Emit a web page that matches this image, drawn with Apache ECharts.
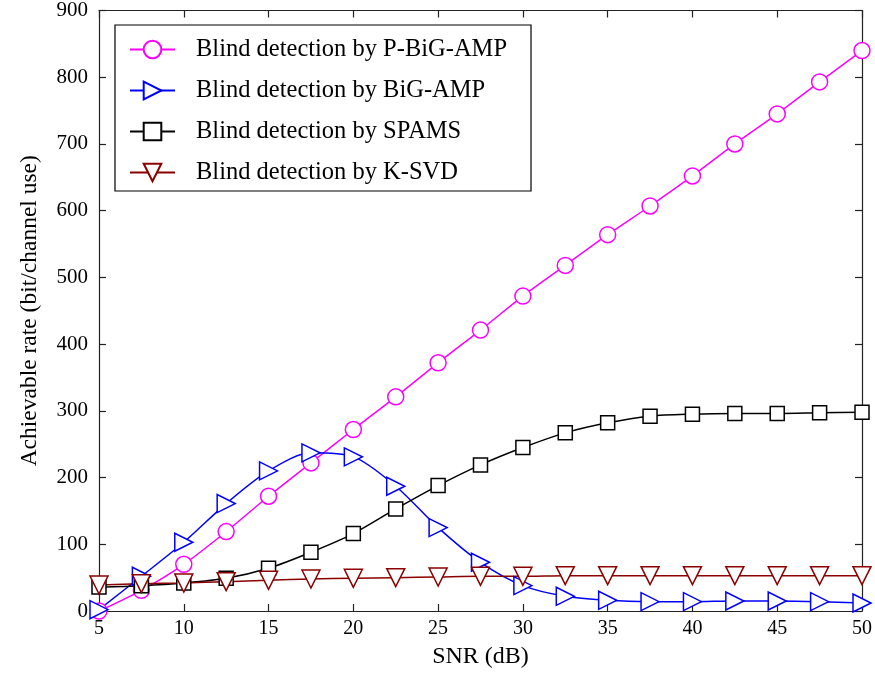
<!DOCTYPE html>
<html>
<head>
<meta charset="utf-8">
<script src="https://cdn.jsdelivr.net/npm/echarts@6/dist/echarts.min.js"></script>
<style>html,body{margin:0;padding:0;background:#fff}#c{width:875px;height:674px}</style>
</head>
<body>
<div id="c"></div>
<script>
var snr = [5, 7.5, 10, 12.5, 15, 17.5, 20, 22.5, 25, 27.5, 30, 32.5, 35, 37.5, 40, 42.5, 45, 47.5, 50];
var pBigAmp = [0, 31, 70, 119, 172, 222, 272, 321, 372, 421, 472, 518, 564, 607, 652, 700, 745, 793, 840];
var bigAmp = [2, 52, 103, 161, 210, 237, 231, 187, 125, 73, 38, 22, 16, 14, 14, 15, 15, 14, 12];
var spams = [36, 38, 42, 49, 64, 88, 116, 153, 188, 219, 245, 267, 282, 292, 295, 296, 296, 297, 298];
var ksvd = [39, 41, 42, 44, 46, 48, 49, 50, 51, 52, 52, 53, 53, 53, 53, 53, 53, 53, 53];
var seriesNames = ['Blind detection by P-BiG-AMP', 'Blind detection by BiG-AMP', 'Blind detection by SPAMS', 'Blind detection by K-SVD'];
var xTicks = [5, 10, 15, 20, 25, 30, 35, 40, 45, 50];

var font = 'Liberation Serif';
function pairs(v){ return snr.map(function(x,i){ return [x, v[i]]; }); }
function mk(name, data, color, symbol, size, rot){
  return {
    name: name, type: 'line', data: pairs(data), smooth: 0.3,
    symbol: symbol, symbolSize: size, symbolRotate: rot,
    showAllSymbol: true,
    lineStyle: {color: color, width: 1.5},
    itemStyle: {color: '#fff', borderColor: color, borderWidth: 1.5},
    emphasis: {disabled: true}
  };
}
var chart = echarts.init(document.getElementById('c'));
function axisCommon(){
  return {
    axisLine: {show: true, onZero: false, lineStyle: {color: '#222', width: 1.2}},
    axisTick: {show: true, inside: true, length: 7, lineStyle: {color: '#222', width: 1.2}},
    splitLine: {show: false}
  };
}
chart.setOption({
  animation: false,
  backgroundColor: '#fff',
  grid: {left: 99, right: 11, top: 9, bottom: 62, containLabel: false},
  legend: {
    orient: 'vertical', left: 115, top: 25,
    padding: [12, 24, 6, 14],
    itemGap: 16, itemWidth: 45, itemHeight: 22,
    borderColor: '#000', borderWidth: 1.2, backgroundColor: '#fff',
    textStyle: {fontFamily: font, fontSize: 24.5, color: '#000', padding: [0,0,0,16]},
    data: seriesNames
  },
  xAxis: [
    Object.assign({type: 'value', min: 5, max: 50, interval: 5, position: 'bottom',
      name: 'SNR (dB)', nameLocation: 'middle', nameGap: 34,
      nameTextStyle: {fontFamily: font, fontSize: 24, color: '#000'},
      axisLabel: {fontFamily: font, fontSize: 20, color: '#000', margin: 8,
        formatter: function(v){ return xTicks.indexOf(v) >= 0 ? String(v) : ''; }}}, axisCommon()),
    Object.assign({type: 'value', min: 5, max: 50, interval: 5, position: 'top',
      axisLabel: {show: false}}, axisCommon())
  ],
  yAxis: [
    Object.assign({type: 'value', min: 0, max: 900, interval: 100, position: 'left',
      name: 'Achievable rate (bit/channel use)', nameLocation: 'middle', nameGap: 57,
      nameTextStyle: {fontFamily: font, fontSize: 23.5, color: '#000'},
      axisLabel: {fontFamily: font, fontSize: 21, color: '#000', margin: 11}}, axisCommon()),
    Object.assign({type: 'value', min: 0, max: 900, interval: 100, position: 'right',
      axisLabel: {show: false}}, axisCommon())
  ],
  series: [
    mk(seriesNames[0], pBigAmp, '#ff00ff', 'circle', 16, 0),
    mk(seriesNames[1], bigAmp, '#0000ff', 'triangle', 18, -90),
    mk(seriesNames[2], spams, '#000000', 'rect', 14, 0),
    mk(seriesNames[3], ksvd, '#8b0000', 'triangle', 18, 180)
  ]
});
</script>
</body>
</html>
